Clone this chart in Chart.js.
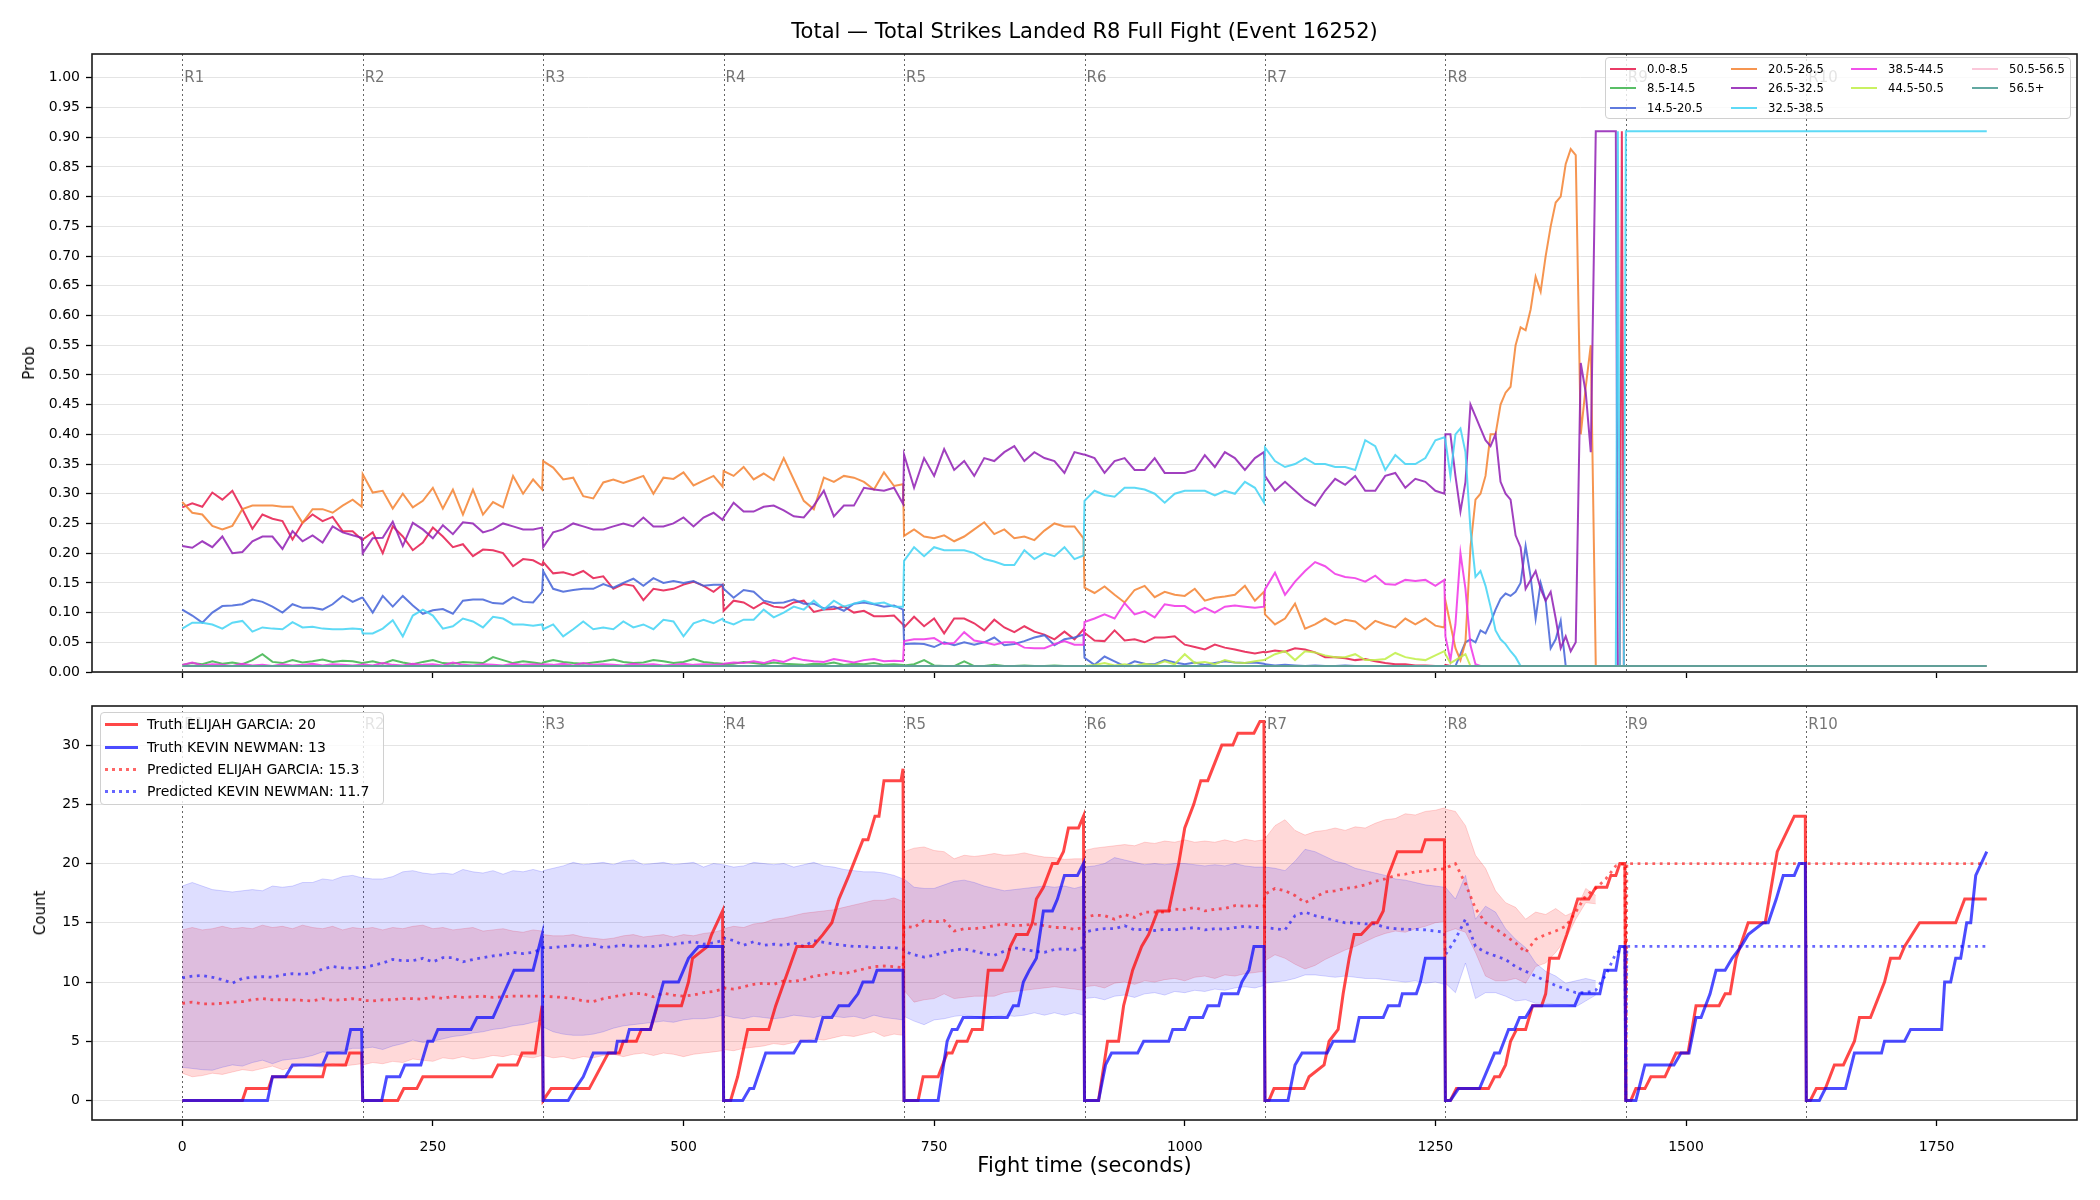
<!DOCTYPE html>
<html>
<head>
<meta charset="utf-8">
<title>Total Strikes Landed R8 Full Fight</title>
<script src="https://cdn.jsdelivr.net/npm/chart.js@4.4.1/dist/chart.umd.min.js"></script>
<style>
  html, body { margin: 0; padding: 0; background: #fff; }
  body { position: relative; width: 2100px; height: 1200px; overflow: hidden; font-family: "DejaVu Sans", sans-serif; color: #000; }
  canvas { position: absolute; left: 0; }
  #probCanvas { top: 0; }
  #countCanvas { top: 690px; }
  .txt { position: absolute; white-space: nowrap; }
  .title { left: 92px; width: 1985px; top: 19px; line-height: 24px; text-align: center; font-size: 21px; }
  .xlabel { left: 92px; width: 1985px; top: 1153px; line-height: 24px; text-align: center; font-size: 21px; }
  .ylabel { transform: translate(-50%, -50%) rotate(-90deg); font-size: 15px; }
  .legend { position: absolute; background: rgba(255,255,255,0.8); border: 1px solid #d0d0d0; border-radius: 4px; box-sizing: border-box; }
  .legend .item { position: absolute; white-space: nowrap; }
  .legend .swatch { position: absolute; }
  #warn { position: absolute; left: 4px; bottom: 2px; font-size: 10px; color: red; }
</style>
</head>
<body>
<canvas id="probCanvas" width="2100" height="690"></canvas>
<canvas id="countCanvas" width="2100" height="510"></canvas>
<div class="txt title">Total — Total Strikes Landed R8 Full Fight (Event 16252)</div>
<div class="txt ylabel" style="left:29px;top:363px;">Prob</div>
<div class="txt ylabel" style="left:40px;top:913px;">Count</div>
<div class="txt xlabel">Fight time (seconds)</div>
<div class="legend" id="probLegend" style="left:1605px;top:57px;width:466px;height:62px;"></div>
<div class="legend" id="countLegend" style="left:100px;top:712px;width:284px;height:93px;"></div>
<div id="warn"></div>
<script>
// ---- time grid / axes ----
const roundOffsets = [0,10,20,30,40,50,60,70,80,90,100,110,120,130,140,150,160,170,179];
const roundStarts = [0,180,360,540,720,900,1080,1260,1440,1620];
const roundNames = ['R1','R2','R3','R4','R5','R6','R7','R8','R9','R10'];
const xTicks = [0,250,500,750,1000,1250,1500,1750];
const probTicks = [0,0.05,0.1,0.15,0.2,0.25,0.3,0.35,0.4,0.45,0.5,0.55,0.6,0.65,0.7,0.75,0.8,0.85,0.9,0.95,1.0];
const countTicks = [0,5,10,15,20,25,30];

// R8 of the probability panel is sampled finer, plus the settled tail
const probR8Secs = [1260,1265,1270,1275,1280,1285,1290,1295,1300,1305,1310,1315,1320,1325,1330,1335,1340,1345,1350,1355,
  1360,1365,1370,1375,1380,1385,1390,1395,1400,1405,1410,1415,1420,1425,1430,1432,1434,1436,1438,1440,1800];
const flatSecs = [0, 1800];

// ---- probability bins ----
const binNames = ['0.0-8.5','8.5-14.5','14.5-20.5','20.5-26.5','26.5-32.5','32.5-38.5','38.5-44.5','44.5-50.5','50.5-56.5','56.5+'];
const binColors = ['#e6194b','#3cb44b','#4363d8','#f58231','#911eb4','#42d4f4','#f032e6','#bfef45','#fabed4','#469990'];

const bin0 = [
  .277,.284,.278,.302,.29,.305,.274,.241,.265,.258,.254,.223,.251,.265,.254,.261,.237,.237,.223,
  .223,.235,.20,.245,.228,.205,.218,.243,.228,.21,.215,.195,.206,.205,.20,.178,.19,.188,.18,
  .185,.166,.168,.163,.17,.158,.161,.14,.148,.145,.121,.14,.137,.14,.147,.152,.145,.135,.147,
  .103,.12,.117,.107,.117,.11,.108,.117,.12,.101,.105,.106,.11,.10,.103,.094,.094,.095,.08,
  .075,.093,.077,.09,.065,.09,.09,.082,.07,.088,.075,.067,.077,.068,.063,.055,.068,.055,.072,
  .066,.053,.052,.07,.053,.055,.05,.058,.058,.06,.046,.042,.038,.046,.041,.038,.034,.031,.034,
  .033,.036,.034,.04,.038,.033,.025,.025,.023,.02,.022,.018,.015,.013,.013,.011,.011,.01,.01,
  .012,.01,.01,.01,.01,.01,.01,.01,.01,.01, .01,.01,.01,.01,.01,.01,.01,.01,.01,.01,
  .01,.01,.01,.01,.01,.01,.01,.01,.01,.01, .01,.01,.01,.01,.01, .01,.01,.91,.01,.01,.01
];
const bin1 = [
  .012,.015,.013,.018,.014,.016,.013,.02,.03,.017,.015,.02,.016,.018,.021,.017,.019,.018,.015,
  .015,.018,.014,.02,.016,.013,.017,.02,.015,.014,.017,.016,.015,.025,.02,.015,.018,.016,.014,
  .016,.02,.017,.015,.014,.016,.018,.021,.017,.015,.016,.02,.018,.015,.017,.022,.017,.015,.014,
  .013,.014,.017,.015,.013,.016,.014,.013,.012,.014,.013,.016,.012,.014,.013,.015,.012,.013,.012,
  .011,.013,.02,.011,.01,.01,.018,.01,.01,.012,.01,.01,.011,.01,.01,.011,.01,.01,.01,
  .01,.01,.01,.01,.01,.01,.01,.01,.01,.01,.01,.01,.01,.01,.01,.01,.01,.01,.01,
  .01,.01,.01,.01,.01,.01,.01,.01,.01,.01,.01,.01,.01,.01,.01,.01,.01,.01,.01,
  .01,.01,.01,.01,.01,.01,.01,.01,.01,.01, .01,.01,.01,.01,.01,.01,.01,.01,.01,.01,
  .01,.01,.01,.01,.01,.01,.01,.01,.01,.01, .01,.01,.01,.01,.01, .01,.01,.01,.01,.01,.01
];
const bin2 = [
  .105,.095,.083,.10,.111,.112,.114,.122,.118,.11,.10,.114,.108,.108,.105,.114,.128,.118,.125,
  .125,.10,.128,.11,.128,.112,.098,.104,.106,.098,.12,.122,.122,.116,.115,.126,.118,.117,.135,
  .17,.14,.135,.138,.14,.14,.148,.142,.15,.157,.145,.158,.15,.153,.15,.153,.145,.147,.147,
  .14,.125,.138,.135,.12,.116,.117,.122,.115,.115,.107,.11,.103,.115,.117,.114,.11,.112,.105,
  .047,.048,.047,.042,.05,.045,.05,.046,.05,.058,.045,.047,.052,.058,.062,.045,.055,.058,.063,
  .024,.012,.026,.018,.01,.018,.014,.013,.02,.016,.013,.016,.012,.015,.018,.016,.015,.016,.014,
  .013,.011,.012,.011,.01,.011,.01,.01,.011,.01,.01,.01,.01,.01,.01,.01,.01,.01,.01,
  .01,.01,.01,.03,.05,.055,.05,.07,.065,.083, .105,.123,.132,.128,.135,.15,.212,.16,.09,.15,
  .12,.04,.055,.086,.01,.01,.01,.01,.01,.01, .01,.01,.01,.01,.01, .01,.01,.01,.01,.01,.01
];
const bin3 = [
  .286,.268,.265,.246,.24,.246,.274,.28,.28,.28,.278,.278,.251,.274,.274,.268,.28,.29,.278,
  .333,.302,.305,.275,.30,.277,.288,.31,.275,.307,.265,.307,.265,.286,.277,.33,.30,.324,.307,
  .355,.344,.324,.327,.296,.292,.319,.324,.318,.324,.33,.30,.327,.325,.336,.314,.322,.33,.312,
  .338,.33,.345,.324,.334,.323,.36,.324,.288,.274,.327,.32,.33,.327,.32,.307,.336,.313,.316,
  .229,.24,.228,.225,.23,.22,.228,.24,.252,.232,.24,.225,.228,.222,.238,.25,.245,.245,.225,
  .142,.133,.144,.13,.117,.138,.145,.126,.135,.13,.128,.14,.12,.125,.127,.13,.145,.12,.135,
  .097,.08,.09,.115,.073,.08,.09,.08,.088,.085,.072,.086,.08,.075,.09,.08,.09,.078,.075,
  .12,.08,.04,.02,.05,.21,.29,.30,.33,.40, .40,.45,.47,.48,.55,.58,.575,.61,.665,.64,
  .70,.75,.79,.80,.855,.88,.87,.40,.48,.55, .01,.01,.01,.01,.01, .01,.01,.01,.01,.01,.01
];
const bin4 = [
  .212,.209,.22,.21,.228,.20,.202,.22,.228,.228,.207,.237,.22,.23,.218,.245,.235,.23,.226,
  .20,.225,.226,.253,.212,.251,.24,.225,.247,.232,.252,.25,.235,.24,.25,.245,.24,.24,.243,
  .21,.235,.24,.25,.245,.24,.24,.245,.25,.245,.26,.245,.245,.25,.26,.245,.26,.268,.256,
  .26,.285,.27,.27,.278,.28,.272,.262,.26,.28,.305,.262,.28,.28,.31,.307,.305,.31,.283,
  .366,.31,.36,.33,.375,.34,.355,.33,.36,.355,.37,.38,.355,.37,.36,.355,.335,.37,.366,
  .366,.36,.335,.355,.36,.34,.34,.36,.335,.335,.335,.34,.365,.345,.37,.36,.34,.36,.37,
  .33,.305,.32,.305,.29,.28,.305,.325,.315,.33,.305,.305,.33,.335,.31,.325,.32,.305,.30,
  .40,.40,.33,.27,.32,.45,.43,.41,.39,.38, .40,.32,.30,.29,.23,.21,.14,.155,.17,.14,
  .12,.135,.09,.04,.06,.035,.05,.52,.47,.37, .91,.91,.91,.91,.91, .01,.01,.01,.01,.01,.01
];
const bin5 = [
  .073,.083,.083,.08,.073,.083,.086,.068,.075,.073,.072,.084,.075,.076,.073,.072,.072,.073,.072,
  .065,.065,.073,.087,.06,.095,.105,.095,.073,.077,.09,.085,.075,.093,.09,.08,.08,.078,.08,
  .072,.08,.06,.072,.085,.072,.075,.072,.085,.075,.08,.072,.088,.085,.06,.082,.088,.082,.09,
  .086,.08,.088,.088,.105,.092,.10,.11,.105,.12,.105,.12,.11,.115,.12,.115,.117,.11,.11,
  .187,.21,.195,.21,.205,.205,.205,.20,.19,.186,.18,.18,.205,.19,.20,.195,.21,.19,.196,
  .288,.305,.298,.295,.31,.31,.307,.30,.285,.30,.305,.305,.305,.297,.305,.30,.32,.31,.285,
  .378,.355,.345,.35,.36,.35,.35,.345,.345,.34,.39,.38,.34,.365,.35,.35,.36,.39,.395,
  .39,.33,.40,.41,.37,.24,.16,.17,.145,.11, .07,.055,.047,.035,.025,.01,.01,.01,.01,.01,
  .01,.01,.01,.01,.01,.01,.01,.01,.01,.01, .01,.01,.01,.01,.01, .91,.01,.01,.01,.91,.91
];
const bin6 = [
  .012,.016,.011,.013,.012,.01,.014,.011,.012,.01,.013,.011,.012,.014,.011,.013,.012,.011,.012,
  .013,.011,.015,.012,.011,.014,.012,.013,.011,.016,.012,.011,.013,.012,.011,.014,.012,.013,.012,
  .013,.012,.014,.011,.015,.012,.013,.012,.011,.014,.012,.013,.011,.012,.014,.012,.013,.012,.013,
  .014,.016,.015,.018,.015,.02,.017,.024,.02,.018,.017,.022,.019,.016,.02,.022,.018,.019,.018,
  .052,.055,.055,.057,.047,.049,.067,.053,.05,.046,.05,.05,.041,.04,.04,.047,.052,.046,.046,
  .084,.09,.097,.09,.116,.097,.102,.092,.114,.111,.111,.10,.108,.10,.11,.112,.11,.108,.11,
  .139,.167,.13,.152,.17,.185,.178,.165,.16,.158,.152,.162,.148,.147,.155,.153,.155,.145,.155,
  .06,.02,.08,.20,.14,.045,.013,.01,.01,.01, .01,.01,.01,.01,.01,.01,.01,.01,.01,.01,
  .01,.01,.01,.01,.01,.01,.01,.01,.01,.01, .01,.01,.01,.01,.01, .01,.01,.01,.01,.01,.01
];
const bin7 = [
  .01,.01,.01,.01,.01,.01,.01,.01,.01,.01,.01,.01,.01,.01,.01,.01,.01,.01,.01,
  .01,.01,.01,.01,.01,.01,.01,.01,.01,.01,.01,.01,.01,.01,.01,.01,.01,.01,.01,
  .01,.01,.01,.01,.01,.01,.01,.01,.01,.01,.01,.01,.01,.01,.01,.01,.01,.01,.01,
  .01,.01,.01,.01,.01,.01,.01,.01,.01,.01,.01,.01,.01,.01,.01,.01,.01,.01,.01,
  .01,.01,.01,.01,.01,.01,.01,.01,.01,.01,.01,.01,.01,.01,.01,.01,.01,.01,.01,
  .01,.012,.015,.011,.013,.01,.014,.012,.018,.013,.03,.015,.017,.013,.02,.016,.015,.018,.02,
  .021,.03,.035,.02,.035,.033,.028,.025,.025,.03,.02,.02,.022,.032,.025,.022,.02,.028,.035,
  .03,.015,.02,.025,.03,.01,.01,.01,.01,.01, .01,.01,.01,.01,.01,.01,.01,.01,.01,.01,
  .01,.01,.01,.01,.01,.01,.01,.01,.01,.01, .01,.01,.01,.01,.01, .01,.01,.01,.01,.01,.01
];
const bin8 = [.01, .01];
const bin9 = [.01, .01];

// ---- counts panel ----
const fighterRed = 'ELIJAH GARCIA';
const fighterBlue = 'KEVIN NEWMAN';

// predicted mean and interval, R1..R8 on the round grid
const garciaPred = [
  8.2,8.3,8.15,8.15,8.2,8.3,8.35,8.5,8.6,8.5,8.5,8.5,8.45,8.4,8.6,8.45,8.5,8.6,8.5,
  8.45,8.4,8.5,8.5,8.6,8.6,8.55,8.75,8.6,8.8,8.7,8.75,8.8,8.7,8.75,8.8,8.8,8.8,8.8,
  8.8,8.75,8.7,8.6,8.4,8.36,8.6,8.75,8.9,9.05,9.0,8.75,9.05,8.9,8.8,8.9,9.1,9.2,9.4,
  9.5,9.4,9.6,9.8,9.9,9.8,10.1,10.05,10.2,10.5,10.6,10.8,10.7,10.9,11.1,11.3,11.35,11.3,11.2,
  14.7,14.6,15.2,15.05,15.2,14.3,14.5,14.5,14.6,14.75,14.9,14.75,14.8,14.9,14.75,14.6,14.6,14.45,14.6,
  15.45,15.65,15.6,15.3,15.7,15.45,15.9,15.9,15.9,16.15,16.1,16.3,16.0,16.15,16.2,16.45,16.4,16.45,16.4,
  17.4,17.9,17.7,17.3,16.7,17.15,17.6,17.7,17.9,18.0,18.2,18.5,18.7,19.0,19.1,19.3,19.35,19.5,19.55,
  19.6,20.0,18.3,16.2,15.0,14.5,13.9,13.3,12.5,13.6,14.0,14.3,14.7,15.9,17.3,17.9,18.7,19.8,20.0
];
const newmanPred = [
  10.35,10.5,10.55,10.4,10.2,9.9,10.3,10.4,10.45,10.4,10.6,10.7,10.65,10.75,11.1,11.3,11.2,11.15,11.25,
  11.2,11.4,11.6,11.9,11.8,11.8,12.0,11.7,12.05,12.05,11.7,11.9,12.05,12.2,12.3,12.5,12.4,12.5,12.8,
  12.9,12.9,13.0,13.1,13.0,13.2,12.9,13.0,13.1,13.0,13.05,13.0,13.1,13.2,13.3,13.4,13.2,13.3,13.5,
  13.7,13.5,13.1,13.4,13.1,13.2,13.1,13.3,13.0,13.5,13.35,13.2,13.1,13.0,13.0,12.9,12.9,12.9,12.8,
  12.6,12.3,12.1,12.25,12.5,12.7,12.8,12.6,12.4,12.25,12.6,12.9,12.75,12.6,12.5,12.75,12.8,12.7,12.9,
  14.2,14.4,14.5,14.5,14.75,14.4,14.45,14.35,14.45,14.4,14.5,14.6,14.4,14.5,14.45,14.6,14.7,14.6,14.6,
  14.6,14.5,14.4,15.6,15.9,15.6,15.4,15.2,15.0,15.0,14.9,14.9,14.6,14.5,14.45,14.45,14.4,14.3,14.2,
  12.3,13.6,15.3,13.0,12.5,12.2,11.9,11.3,10.9,10.5,10.1,9.7,9.4,9.1,9.1,9.3,10.6,12.4,13.0
];
const garciaLow = [
  2.3,2.0,2.1,2.3,2.2,2.4,2.6,2.5,2.7,2.9,2.6,2.8,3.0,2.9,2.8,3.1,2.9,3.0,3.1,
  3.0,3.2,3.1,3.3,3.2,3.5,3.4,3.3,3.6,3.5,3.7,3.5,3.6,3.8,3.7,3.9,3.7,3.6,3.8,
  3.8,3.6,3.7,3.5,3.7,3.6,3.8,3.9,3.7,3.9,4.0,3.8,4.0,3.9,3.7,3.9,4.0,4.1,4.2,
  4.3,4.2,4.4,4.5,4.6,4.8,4.7,4.9,5.0,5.2,5.1,5.3,5.5,5.4,5.6,5.8,5.4,5.6,5.5,
  9.3,8.3,8.5,8.6,9.0,8.6,8.7,8.8,8.8,8.8,9.1,9.2,9.3,9.4,9.5,9.6,9.5,9.4,9.3,
  9.6,9.7,9.5,9.9,10.0,9.8,10.1,10.0,10.2,10.3,10.1,10.4,10.5,10.3,10.6,10.5,10.7,10.8,10.9,
  11.8,12.3,12.0,11.5,11.1,11.4,11.9,12.3,12.7,13.0,13.4,13.8,14.1,14.3,14.2,14.5,14.7,15.0,15.1,
  14.2,14.5,14.2,12.5,10.5,10.1,10.1,10.3,9.9,11.3,11.6,12.5,13.6,15.3,16.7,16.6,null,null,null
];
const garciaHigh = [
  14.4,14.6,14.4,14.5,14.7,14.5,14.6,14.5,14.8,14.6,14.7,14.5,14.8,14.6,14.5,14.7,14.4,14.6,14.5,
  14.5,14.6,14.4,14.6,14.5,14.7,14.8,14.5,14.6,14.4,14.5,14.6,14.3,14.4,14.5,14.3,14.2,14.4,14.3,
  14.0,13.9,13.9,14.0,13.8,13.7,13.6,13.7,13.9,14.0,13.8,13.9,14.0,13.8,14.0,13.9,14.1,14.2,14.4,
  14.5,14.7,14.6,14.9,15.0,15.3,15.4,15.6,15.8,15.9,16.0,16.1,16.3,16.5,16.7,16.9,16.9,17.1,16.8,
  21.0,21.3,21.4,21.1,21.0,20.4,20.7,20.6,20.7,20.85,20.7,20.75,20.9,20.7,20.55,20.5,20.35,20.4,20.4,
  21.1,21.3,21.4,21.5,21.6,21.5,21.8,21.7,21.9,21.8,22.0,21.8,21.9,21.8,22.0,21.8,22.05,21.9,22.0,
  22.1,23.2,23.7,22.8,22.4,22.7,22.8,23.0,22.8,23.1,23.0,23.4,23.7,23.8,24.2,24.1,24.4,24.5,24.7,
  24.6,24.4,23.2,20.7,19.6,17.7,16.7,16.3,15.3,15.9,15.7,16.2,15.6,16.0,17.9,17.3,null,null,null
];
const newmanLow = [
  2.8,2.7,2.6,2.55,2.8,3.0,2.9,3.2,3.4,3.1,3.4,3.5,3.6,3.8,4.1,4.0,4.2,4.4,4.4,
  4.4,4.5,4.3,4.6,4.8,5.1,4.9,5.0,5.2,5.4,5.5,5.7,5.8,6.0,6.1,6.3,6.4,6.6,6.8,
  6.2,5.8,5.6,5.5,5.5,5.6,5.8,6.1,6.3,6.4,6.5,6.6,6.7,6.6,6.8,6.9,6.9,7.0,7.2,
  7.2,7.0,6.9,7.1,7.0,6.9,7.0,7.2,7.1,7.0,7.2,7.1,7.0,7.1,6.9,7.2,7.0,6.9,6.8,
  7.1,6.7,6.4,6.8,6.9,7.1,7.2,7.1,6.9,7.1,7.2,7.1,7.2,7.4,7.2,7.4,7.2,7.4,7.2,
  8.6,8.7,8.5,8.8,8.9,8.7,9.0,9.1,8.9,9.2,9.1,9.3,9.2,9.4,9.3,9.5,9.6,9.5,9.7,
  9.9,10.0,10.1,10.3,10.6,10.6,10.5,10.4,10.5,10.4,10.3,10.3,10.2,10.1,10.0,10.1,9.9,10.0,9.8,
  9.9,9.1,11.6,8.6,9.1,9.1,8.8,8.4,8.5,8.2,8.2,8.1,8.1,7.9,8.4,8.9,null,null,null
];
const newmanHigh = [
  18.1,18.4,18.1,17.8,17.7,17.6,17.7,17.8,17.7,18.1,18.0,18.1,18.4,18.4,18.7,18.6,18.9,19.0,18.8,
  18.8,18.7,18.7,18.9,19.3,19.4,19.2,19.1,19.2,19.1,19.5,19.3,19.2,19.4,19.1,19.4,19.3,19.5,19.3,
  19.4,19.6,19.8,20.1,19.9,20.0,20.1,19.9,20.2,20.3,19.9,20.0,20.1,19.9,20.0,20.1,19.7,20.0,19.9,
  19.9,19.7,19.8,20.1,20.0,19.9,20.0,19.7,19.9,20.1,19.8,19.7,19.5,19.4,19.3,19.3,19.2,19.0,18.7,
  18.7,18.0,17.9,17.9,18.2,18.5,18.6,18.4,18.1,17.9,17.7,17.8,17.9,18.0,18.1,18.0,18.1,17.9,18.1,
  19.7,19.8,20.0,20.5,20.3,20.1,19.9,20.0,19.9,20.0,20.0,19.9,19.8,19.9,19.8,20.0,19.8,19.7,19.7,
  19.7,19.6,19.4,20.2,21.2,21.0,20.6,20.2,20.0,19.6,19.4,19.2,19.0,18.7,18.6,18.4,18.2,18.1,18.0,
  18.0,17.0,19.0,15.3,16.4,15.9,14.5,13.6,12.9,11.6,10.9,10.5,9.9,10.1,10.3,10.1,null,null,null
];
// after R8 the prediction is held at the final values
const predTailSecs = [1440, 1441, 1800];
const garciaPredTail = [0, 20, 20];
const newmanPredTail = [0, 13, 13];

// truth: cumulative strikes per round, as breakpoints (seconds, count)
const garciaTruthSecs = [
  0,60,64,86,90,140,143,163,167,179,
  180,215,221,234,240,309,315,334,339,352,359,
  360,368,406,425,436,440,453,458,467,474,498,505,509,524,528,539,
  540,547,554,564,585,592,613,629,639,648,655,665,679,684,691,695,700,717,719,
  720,734,739,754,763,768,773,783,788,798,804,818,823,826,832,843,848,852,859,868,873,879,884,894,899,
  900,914,923,934,939,948,957,964,973,984,994,1000,1009,1016,1023,1037,1048,1053,1069,1075,1079,
  1080,1084,1089,1119,1124,1139,1144,1153,1158,1164,1169,1176,1187,1192,1198,1203,1212,1224,1236,1240,1259,
  1260,1265,1271,1303,1309,1314,1320,1325,1331,1340,1347,1356,1360,1364,1373,1381,1392,1403,1410,1421,1425,1430,1434,1439,
  1440,1445,1450,1459,1465,1479,1490,1502,1510,1533,1539,1544,1550,1562,1579,1591,1608,1619,
  1620,1624,1630,1639,1648,1657,1668,1673,1684,1698,1704,1713,1718,1733,1769,1778,1800
];
const garciaTruth = [
  0,0,1,1,2,2,3,3,4,4,
  0,0,1,1,2,2,3,3,4,4,8,
  0,1,1,4,4,5,5,6,6,8,8,10,12,13,14,16,
  0,0,2,6,6,8,13,13,14,15,17,19,22,22,24,24,27,27,28,
  0,0,2,2,4,4,5,5,6,6,11,11,12,13,14,14,15,17,18,20,20,21,23,23,24,
  0,0,5,5,8,11,13,14,16,16,20,23,25,27,27,30,30,31,31,32,32,
  0,0,1,1,2,3,5,6,9,12,14,14,15,15,16,19,21,21,21,22,22,
  0,0,1,1,2,2,3,5,6,6,8,8,9,12,12,14,17,17,18,18,19,19,20,20,
  0,0,1,1,2,2,4,4,8,8,9,9,12,15,15,21,24,24,
  0,0,1,1,3,3,5,7,7,10,12,12,13,15,15,17,17
];
const newmanTruthSecs = [
  0,85,90,103,110,140,145,163,168,179,
  180,199,204,217,222,238,245,250,255,288,294,310,331,350,359,
  360,385,392,400,410,432,434,443,446,467,480,495,505,515,539,
  540,559,566,570,582,610,617,632,639,648,655,665,674,679,689,693,719,
  720,754,763,768,773,779,823,829,834,839,845,852,859,868,873,880,893,899,
  900,914,921,927,953,959,984,988,1000,1005,1018,1023,1034,1037,1053,1057,1064,1069,1079,
  1080,1103,1110,1117,1142,1148,1169,1174,1198,1203,1214,1217,1231,1235,1240,1259,
  1260,1265,1273,1294,1309,1314,1323,1329,1334,1340,1347,1389,1394,1414,1419,1430,1434,1439,
  1440,1450,1459,1488,1495,1503,1510,1515,1524,1530,1539,1546,1555,1562,1577,1582,1590,1597,1608,1613,1619,
  1620,1633,1639,1659,1668,1695,1698,1718,1724,1755,1758,1764,1769,1774,1780,1784,1789,1800
];
const newmanTruth = [
  0,0,2,2,3,3,4,4,6,6,
  0,0,2,2,3,3,5,5,6,6,7,7,11,11,14,
  0,0,1,2,4,4,5,5,6,6,10,10,12,13,13,
  0,0,1,1,4,4,5,5,7,7,8,8,9,10,10,11,11,
  0,0,5,6,6,7,7,8,8,10,11,12,16,16,17,19,19,20,
  0,0,3,4,4,5,5,6,6,7,7,8,8,9,9,10,11,13,13,
  0,0,3,4,4,5,5,7,7,8,8,9,9,10,12,12,
  0,0,1,1,4,4,6,6,7,7,8,8,9,9,11,11,13,13,
  0,0,3,3,4,4,7,7,9,11,11,12,13,14,15,15,17,19,19,20,20,
  0,0,1,1,4,4,5,5,6,6,10,10,12,12,15,15,19,21
];

// ---- helpers ----
const FONT = '"DejaVu Sans", sans-serif';
const problems = [];
function pts(name, secs, vals) {
  if (secs.length !== vals.length) problems.push(name + ': ' + vals.length + ' vs ' + secs.length);
  return secs.map((t, i) => ({ x: t, y: vals[i] }));
}
function alpha(hex, a) {
  const n = parseInt(hex.slice(1), 16);
  return 'rgba(' + (n >> 16) + ',' + ((n >> 8) & 255) + ',' + (n & 255) + ',' + a + ')';
}

const probSecs = [];
for (let r = 0; r < 7; r++) roundOffsets.forEach(o => probSecs.push(roundStarts[r] + o));
probR8Secs.forEach(t => probSecs.push(t));

const predSecs = [];
for (let r = 0; r < 8; r++) roundOffsets.forEach(o => predSecs.push(roundStarts[r] + o));

// round separators + labels, and the axes frame
const roundMarks = {
  id: 'roundMarks',
  beforeDatasetsDraw(chart, args, opts) {
    const { ctx, chartArea: a, scales } = chart;
    ctx.save();
    ctx.strokeStyle = 'rgba(0,0,0,0.6)';
    ctx.lineWidth = 1;
    ctx.setLineDash([2, 3]);
    roundStarts.forEach(t => {
      const x = Math.round(scales.x.getPixelForValue(t)) + 0.5;
      ctx.beginPath(); ctx.moveTo(x, a.top); ctx.lineTo(x, a.bottom); ctx.stroke();
    });
    ctx.setLineDash([]);
    ctx.fillStyle = 'rgba(0,0,0,0.55)';
    ctx.font = '15px ' + FONT;
    ctx.textBaseline = 'middle';
    const y = scales.y.getPixelForValue(opts.labelAt);
    roundStarts.forEach((t, i) => ctx.fillText(roundNames[i], scales.x.getPixelForValue(t) + 2, y));
    ctx.restore();
  },
  afterDraw(chart) {
    const { ctx, chartArea: a } = chart;
    ctx.save();
    ctx.strokeStyle = '#1a1a1a';
    ctx.lineWidth = 1.6;
    ctx.strokeRect(a.left, a.top, a.right - a.left, a.bottom - a.top);
    ctx.restore();
  }
};

function xScale(showLabels, height) {
  return {
    type: 'linear', min: -90, max: 1890,
    afterBuildTicks: s => { s.ticks = xTicks.map(v => ({ value: v })); },
    afterFit: s => { s.height = height; },
    grid: { drawOnChartArea: false, drawTicks: true, tickLength: 6, tickColor: '#000', tickWidth: 1.3 },
    border: { display: false },
    ticks: { display: showLabels, color: '#000', font: { size: 14, family: FONT }, padding: 13, maxRotation: 0, autoSkip: false,
      callback: v => String(v) }
  };
}
function yScale(min, max, ticks, fmt) {
  return {
    min, max,
    afterBuildTicks: s => { s.ticks = ticks.map(v => ({ value: v })); },
    afterFit: s => { s.width = 92; },
    grid: { color: '#e4e4e4', lineWidth: 1, tickLength: 6, tickColor: '#000', tickWidth: 1.3 },
    border: { display: false },
    ticks: { color: '#000', font: { size: 14, family: FONT }, padding: 6, autoSkip: false, callback: fmt }
  };
}

// ---- top: probabilities ----
const binSecs = [probSecs, probSecs, probSecs, probSecs, probSecs, probSecs, probSecs, probSecs, flatSecs, flatSecs];
const binVals = [bin0, bin1, bin2, bin3, bin4, bin5, bin6, bin7, bin8, bin9];

new Chart(document.getElementById('probCanvas'), {
  type: 'line',
  data: {
    datasets: binNames.map((name, i) => ({
      label: name,
      data: pts(name, binSecs[i], binVals[i]),
      borderColor: alpha(binColors[i], 0.85),
      borderWidth: 2,
      pointRadius: 0,
      fill: false,
      tension: 0,
      order: -i
    }))
  },
  options: {
    responsive: false, animation: false, devicePixelRatio: 1,
    layout: { padding: { top: 54, right: 23, bottom: 0, left: 0 } },
    plugins: { legend: { display: false }, tooltip: { enabled: false }, roundMarks: { labelAt: 1.0 } },
    scales: {
      x: xScale(false, 18),
      y: yScale(0, 1.04, probTicks, v => v.toFixed(2))
    }
  },
  plugins: [roundMarks]
});

// ---- bottom: counts ----
const RED = '255,0,0', BLUE = '0,0,255';
new Chart(document.getElementById('countCanvas'), {
  type: 'line',
  data: {
    datasets: [
      { label: 'lowR', data: pts('garciaLow', predSecs, garciaLow), borderColor: 'rgba(' + RED + ',0.16)', borderWidth: 1, fill: false, order: 7 },
      { label: 'highR', data: pts('garciaHigh', predSecs, garciaHigh), borderColor: 'rgba(' + RED + ',0.16)', borderWidth: 1,
        fill: '-1', backgroundColor: 'rgba(' + RED + ',0.15)', order: 6 },
      { label: 'lowB', data: pts('newmanLow', predSecs, newmanLow), borderColor: 'rgba(' + BLUE + ',0.16)', borderWidth: 1, fill: false, order: 5 },
      { label: 'highB', data: pts('newmanHigh', predSecs, newmanHigh), borderColor: 'rgba(' + BLUE + ',0.16)', borderWidth: 1,
        fill: '-1', backgroundColor: 'rgba(' + BLUE + ',0.13)', order: 4 },
      { label: 'Predicted ' + fighterRed,
        data: pts('garciaPred', predSecs, garciaPred).concat(pts('garciaTail', predTailSecs, garciaPredTail)),
        borderColor: 'rgba(' + RED + ',0.6)', borderWidth: 2.8, borderDash: [2.8, 4.6], fill: false, order: 3 },
      { label: 'Predicted ' + fighterBlue,
        data: pts('newmanPred', predSecs, newmanPred).concat(pts('newmanTail', predTailSecs, newmanPredTail)),
        borderColor: 'rgba(' + BLUE + ',0.6)', borderWidth: 2.8, borderDash: [2.8, 4.6], fill: false, order: 2 },
      { label: 'Truth ' + fighterRed, data: pts('garciaTruth', garciaTruthSecs, garciaTruth),
        borderColor: 'rgba(' + RED + ',0.72)', borderWidth: 3, fill: false, order: 1 },
      { label: 'Truth ' + fighterBlue, data: pts('newmanTruth', newmanTruthSecs, newmanTruth),
        borderColor: 'rgba(' + BLUE + ',0.7)', borderWidth: 3, fill: false, order: 0 }
    ]
  },
  options: {
    responsive: false, animation: false, devicePixelRatio: 1,
    layout: { padding: { top: 16, right: 23, bottom: 0, left: 0 } },
    elements: { point: { radius: 0 }, line: { tension: 0, borderJoinStyle: 'miter' } },
    plugins: { legend: { display: false }, tooltip: { enabled: false }, roundMarks: { labelAt: 31.7 } },
    scales: {
      x: xScale(true, 80),
      y: yScale(-1.65, 33.3, countTicks, v => String(v))
    }
  },
  plugins: [roundMarks]
});

// ---- legends (html) ----
const probCols = [[0, 1, 2], [3, 4, 5], [6, 7], [8, 9]];
const probColX = [4, 125, 245, 366];
const probRowY = [11, 30, 50];
const pl = document.getElementById('probLegend');
probCols.forEach((col, c) => col.forEach((bi, r) => {
  const sw = document.createElement('div');
  sw.className = 'swatch';
  sw.style.cssText = 'left:' + probColX[c] + 'px;top:' + (probRowY[r] - 1) + 'px;width:26px;height:2px;background:' + alpha(binColors[bi], 0.85);
  pl.appendChild(sw);
  const tx = document.createElement('div');
  tx.className = 'item';
  tx.textContent = binNames[bi];
  tx.style.cssText = 'left:' + (probColX[c] + 37) + 'px;top:' + (probRowY[r] - 7) + 'px;font-size:11.6px;line-height:14px;';
  pl.appendChild(tx);
}));

const countItems = [
  { text: 'Truth ' + fighterRed + ': 20', color: 'rgba(' + RED + ',0.72)', dotted: false },
  { text: 'Truth ' + fighterBlue + ': 13', color: 'rgba(' + BLUE + ',0.7)', dotted: false },
  { text: 'Predicted ' + fighterRed + ': 15.3', color: 'rgba(' + RED + ',0.6)', dotted: true },
  { text: 'Predicted ' + fighterBlue + ': 11.7', color: 'rgba(' + BLUE + ',0.6)', dotted: true }
];
const countRowY = [11, 34, 56, 78];
const cl = document.getElementById('countLegend');
countItems.forEach((it, r) => {
  const sw = document.createElement('div');
  sw.className = 'swatch';
  const bg = it.dotted
    ? 'repeating-linear-gradient(90deg,' + it.color + ' 0 3px, transparent 3px 7px)'
    : it.color;
  sw.style.cssText = 'left:4px;top:' + (countRowY[r] - 1.5) + 'px;width:33px;height:3px;background:' + bg;
  cl.appendChild(sw);
  const tx = document.createElement('div');
  tx.className = 'item';
  tx.textContent = it.text;
  tx.style.cssText = 'left:46px;top:' + (countRowY[r] - 8.5) + 'px;font-size:14px;line-height:17px;';
  cl.appendChild(tx);
});

if (problems.length) document.getElementById('warn').textContent = problems.join(' | ');
</script>
</body>
</html>
